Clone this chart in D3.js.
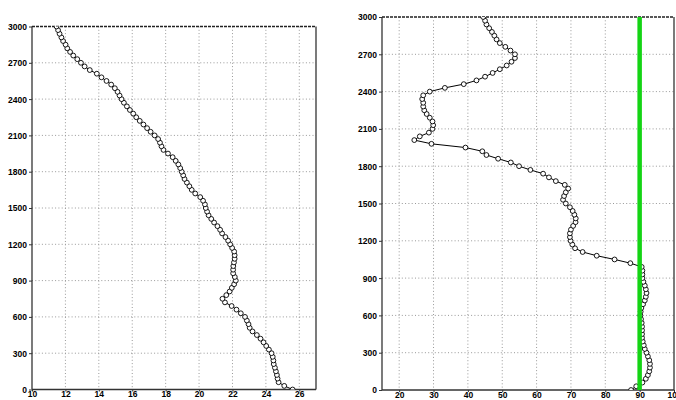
<!DOCTYPE html>
<html><head><meta charset="utf-8">
<script src="https://cdn.jsdelivr.net/npm/d3@7"></script>
<style>
html,body{margin:0;padding:0;background:#fff;}
svg{display:block;}
.tk text{font-family:"Liberation Sans",Arial,sans-serif;font-size:8.5px;font-weight:bold;fill:#000;}
</style></head>
<body>
<svg id="c" width="676" height="400"></svg>
<script>
// heights (m)
const heights = [0,30,60,90,120,150,180,210,240,270,300,330,360,390,420,450,480,510,540,570,600,630,660,690,720,750,780,810,840,870,900,930,960,990,1020,1050,1080,1110,1140,1170,1200,1230,1260,1290,1320,1350,1380,1410,1440,1470,1500,1530,1560,1590,1620,1650,1680,1710,1740,1770,1800,1830,1860,1890,1920,1950,1980,2010,2040,2070,2100,2130,2160,2190,2220,2250,2280,2310,2340,2370,2400,2430,2460,2490,2520,2550,2580,2610,2640,2670,2700,2730,2760,2790,2820,2850,2880,2910,2940,2970,3000];
// left panel: temperature
const tempVals = [25.6,25.1,24.76,24.7,24.66,24.6,24.54,24.47,24.45,24.41,
24.34,24.18,24.02,23.86,23.68,23.46,23.2,23.03,22.96,22.86,
22.75,22.5,22.24,21.95,21.55,21.4,21.63,21.83,21.96,22.1,
22.2,22.14,22.04,22.04,22.05,22.09,22.13,22.13,22.1,21.98,
21.86,21.74,21.58,21.38,21.26,21.1,20.9,20.73,20.57,20.48,
20.4,20.35,20.24,20.07,19.77,19.56,19.42,19.27,19.13,19.05,
18.96,18.87,18.76,18.6,18.42,18.14,17.87,17.75,17.66,17.55,
17.34,17.1,16.89,16.67,16.45,16.24,16.06,15.86,15.68,15.5,
15.36,15.24,15.12,14.96,14.74,14.46,14.16,13.88,13.46,13.15,
12.93,12.71,12.47,12.28,12.11,12.01,11.86,11.76,11.65,11.56,11.47];
// right panel: relative humidity
const rhVals = [87.5,89.0,90.8,91.8,92.4,92.8,93.0,93.0,92.8,92.4,
92.0,91.5,91.2,90.9,90.7,90.7,90.7,90.7,90.6,90.4,
90.2,90.3,90.5,91.0,91.5,91.8,92.0,91.8,91.5,91.1,
90.8,90.8,90.8,90.6,87.3,82.7,77.5,73.4,71.2,70.4,
69.9,69.7,69.7,70.0,70.65,71.35,71.4,71.0,70.5,69.7,
68.5,67.7,68.0,68.5,69.2,68.2,65.6,63.6,61.9,58.2,
54.9,52.5,48.8,45.4,44.2,39.3,29.4,24.4,26.0,28.65,
29.7,29.9,29.7,28.9,28.0,27.3,27.0,27.0,26.7,27.0,
28.9,33.3,38.8,42.5,45.0,47.2,49.3,51.3,52.7,53.7,
53.7,52.4,50.9,49.3,48.35,47.7,47.0,46.2,45.4,45.0,44.45];
const refLine = 90;
const yTicks = [0,300,600,900,1200,1500,1800,2100,2400,2700,3000];
const xTicksL = [10,12,14,16,18,20,22,24,26];
const xTicksR = [20,30,40,50,60,70,80,90,100];

const svg = d3.select("#c");

function panel(opt){
  const {x, y, vals, xt, id} = opt;
  const g = svg.append("g");
  const [x0,x1] = x.range(), [y0,y1] = y.range();
  g.append("clipPath").attr("id",id).append("rect")
    .attr("x",x0).attr("y",y1).attr("width",x1-x0).attr("height",y0-y1);
  // grid
  g.append("g").selectAll("line").data(xt.filter(v=>x(v)>x0+1 && x(v)<x1-1)).join("line")
    .attr("x1",d=>x(d)).attr("x2",d=>x(d)).attr("y1",y1).attr("y2",y0)
    .attr("stroke","#999").attr("stroke-width",1).attr("stroke-dasharray","1,2.3");
  g.append("g").selectAll("line").data(yTicks.slice(1,-1)).join("line")
    .attr("y1",d=>y(d)).attr("y2",d=>y(d)).attr("x1",x0).attr("x2",x1)
    .attr("stroke","#999").attr("stroke-width",1).attr("stroke-dasharray","1,2.3");
  // axes
  g.append("g").attr("class","tk").attr("transform",`translate(0,${y0})`)
    .call(d3.axisBottom(x).tickValues(xt).tickSize(2).tickPadding(0).tickFormat(d3.format("d")))
    .call(s=>{s.select(".domain").remove();s.selectAll("line").attr("stroke","#333");
      s.selectAll("text").attr("dy","0.68em");});
  g.append("g").attr("class","tk").attr("transform",`translate(${x0},0)`)
    .call(d3.axisLeft(y).tickValues(yTicks).tickSize(3).tickPadding(2).tickFormat(d3.format("d")))
    .call(s=>{s.select(".domain").remove();s.selectAll("line").attr("stroke","#333");
      s.selectAll("text").attr("dy","0.35em");});
  // frame
  g.append("line").attr("x1",x0).attr("x2",x0).attr("y1",y1).attr("y2",y0).attr("stroke","#333").attr("stroke-width",1.3);
  g.append("line").attr("x1",x1).attr("x2",x1).attr("y1",y1).attr("y2",y0).attr("stroke","#333").attr("stroke-width",1.3);
  g.append("line").attr("x1",x0).attr("x2",x1).attr("y1",y0).attr("y2",y0).attr("stroke","#333").attr("stroke-width",1.3);
  g.append("line").attr("x1",x0).attr("x2",x1).attr("y1",y1).attr("y2",y1).attr("stroke","#222").attr("stroke-width",1.3).attr("stroke-dasharray","3,1");
  // data
  const pts = heights.map((h,i)=>({h, v: vals[i]}));
  const dg = g.append("g").attr("clip-path",`url(#${id})`);
  dg.append("path").datum(pts)
    .attr("d", d3.line().x(d=>x(d.v)).y(d=>y(d.h)))
    .attr("fill","none").attr("stroke","#000").attr("stroke-width",1);
  dg.selectAll("circle").data(pts).join("circle")
    .attr("cx",d=>x(d.v)).attr("cy",d=>y(d.h)).attr("r",2.4)
    .attr("fill","#fff").attr("stroke","#000").attr("stroke-width",0.9);
  return dg;
}

const xL = d3.scaleLinear().domain([10,27]).range([32,316]);
const yL = d3.scaleLinear().domain([0,3000]).range([389.5,26.5]);
panel({x:xL, y:yL, vals:tempVals, xt:xTicksL, id:"clipL"});

const xR = d3.scaleLinear().domain([15,100]).range([382,674]);
const yR = d3.scaleLinear().domain([0,3000]).range([390,17]);
const dgR = panel({x:xR, y:yR, vals:rhVals, xt:xTicksR, id:"clipR"});
dgR.append("line")
  .attr("x1",xR(refLine)).attr("x2",xR(refLine)).attr("y1",yR(3000)).attr("y2",yR(0))
  .attr("stroke","#14d414").attr("stroke-width",4.5);
</script>
</body></html>
